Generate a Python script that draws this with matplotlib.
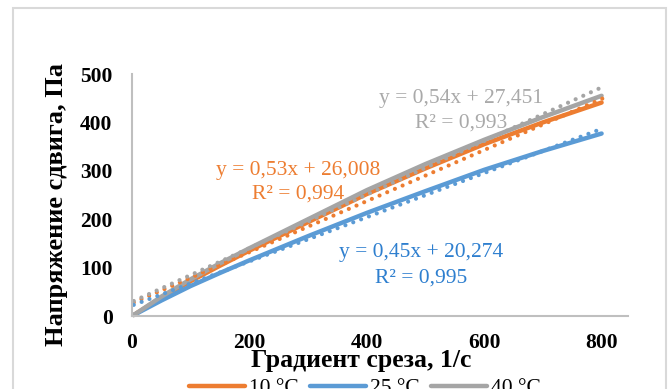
import matplotlib
matplotlib.use("Agg")
import matplotlib.pyplot as plt
from matplotlib.patches import Rectangle
import numpy as np

# ---- data ----
shear_rate = [3, 50, 100, 150, 200, 300, 400, 500, 600, 700, 800]
stress_10 = [2, 38, 72, 104, 135, 194, 252, 305, 355, 400, 441]
stress_25 = [2, 32, 62, 89, 115, 165, 213, 258, 302, 341, 377]
stress_40 = [2, 40, 76, 109, 140, 200, 260, 314, 364, 411, 455]

trend_x = [3, 803]
trend_10 = [28, 450]
trend_25 = [23, 388]
trend_40 = [31, 474]

series_labels = ["10 °C", "25 °C", "40 °C"]
eq_texts = [("y = 0,53x + 26,008", "R² = 0,994"),
            ("y = 0,45x + 20,274", "R² = 0,995"),
            ("y = 0,54x + 27,451", "R² = 0,993")]
x_ticks = [0, 200, 400, 600, 800]
y_ticks = [0, 100, 200, 300, 400, 500]
x_label = "Градиент среза, 1/с"
y_label = "Напряжение сдвига, Па"

colors = ["#ed7d31", "#5b9bd5", "#a5a5a5"]
text_colors = ["#ed7d31", "#2e7fcf", "#a9a9a9"]

W, H = 671, 389
fig = plt.figure(figsize=(W / 100, H / 100), dpi=100)
plt.rcParams['font.family'] = ['Liberation Serif', 'DejaVu Serif']

# outer frame
fig.patches.append(Rectangle((13 / W, -0.05), (666 - 13) / W, 1.05 - 8 / H,
                             transform=fig.transFigure, fill=False,
                             edgecolor="#d9d9d9", linewidth=1.5))

ax = fig.add_axes([132 / W, (H - 316) / H, (628 - 132) / W, (316 - 74) / H])
ax.set_xlim(0, 845)
ax.set_ylim(0, 500)

curves = [stress_10, stress_25, stress_40]
trends = [trend_10, trend_25, trend_40]
handles = []
for ys, c, lab in zip(curves, colors, series_labels):
    h, = ax.plot(shear_rate, ys, color=c, lw=3.2, solid_capstyle='round',
                 clip_on=False, label=lab)
    handles.append(h)
for ts, c in zip(trends, colors):
    ax.plot(trend_x, ts, color=c, lw=3.0, linestyle=(0, (0.01, 2.0)),
            dash_capstyle='round', clip_on=False)

for s in ["top", "right"]:
    ax.spines[s].set_visible(False)
for s in ["left", "bottom"]:
    ax.spines[s].set_color("#bfbfbf")
    ax.spines[s].set_linewidth(1.5)

ax.set_xticks(x_ticks)
ax.set_yticks(y_ticks)
ax.tick_params(length=0, labelsize=15.5)
ax.tick_params(axis='y', pad=14)
ax.tick_params(axis='x', pad=12)
for lbl in ax.get_xticklabels() + ax.get_yticklabels():
    lbl.set_fontweight('bold')

fig.text(361 / W, 1 - 360 / H, x_label, ha='center', va='center',
         fontsize=18.5, fontweight='bold')
fig.text(56 / W, 1 - 205 / H, y_label, ha='center', va='center',
         fontsize=19, fontweight='bold', rotation=90)

# equation labels
eq_pos = [((298, 170), (298, 194)), ((421, 253), (421, 278)), ((461, 98), (461, 123))]
for (t1, t2), ((x1, y1), (x2, y2)), tc in zip(eq_texts, eq_pos, text_colors):
    fig.text(x1 / W, 1 - y1 / H, t1, ha='center', va='center', fontsize=15.5, color=tc)
    fig.text(x2 / W, 1 - y2 / H, t2, ha='center', va='center', fontsize=15.5, color=tc)

fig.legend(handles=handles, loc='center', bbox_to_anchor=(365 / W, 1 / H),
           ncol=3, frameon=False, fontsize=15.5, handlelength=2.6,
           handletextpad=0.2, columnspacing=0.5)

fig.savefig("out.png", dpi=100)
